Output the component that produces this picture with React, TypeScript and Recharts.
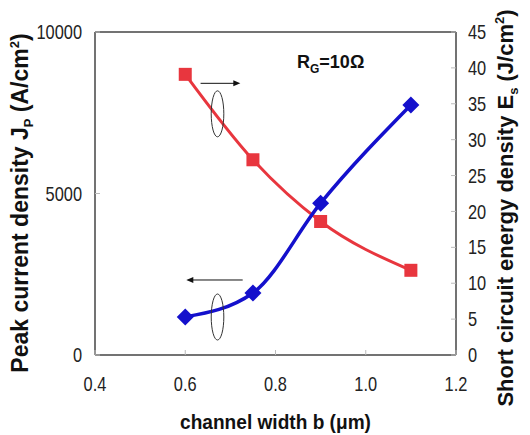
import React from "react";
import {
  ComposedChart,
  Line,
  XAxis,
  YAxis,
  ReferenceLine,
  ReferenceDot,
} from "recharts";

// ---- data ----
const channelWidths = [0.6, 0.75, 0.9, 1.1];
const peakCurrentDensity = [1180, 1920, 4700, 7740];
const shortCircuitEnergy = [39.1, 27.2, 18.6, 11.8];
const xTicks = [0.4, 0.6, 0.8, 1.0, 1.2];
const leftTicks = [0, 5000, 10000];
const rightTicks = [0, 5, 10, 15, 20, 25, 30, 35, 40, 45];

const data = channelWidths.map((w, i) => ({
  w,
  jp: peakCurrentDensity[i],
  es: shortCircuitEnergy[i],
}));

const RED = "#e8363e";
const BLUE = "#1410cc";
const TICK_FONT = '"Liberation Sans", Arial, sans-serif';
const TITLE_FONT = '"Liberation Sans", Arial, sans-serif';
const NARROW = 0.82;

const NarrowText = ({ x, y, anchor, children, dy }: any) => (
  <text
    transform={`translate(${x},${y}) scale(${NARROW},1)`}
    textAnchor={anchor}
    dominantBaseline={dy ? undefined : "central"}
    dy={dy}
    fontFamily={TICK_FONT}
    fontSize={20}
    fill="#222"
  >
    {children}
  </text>
);

const LeftTick = (p: any) => (
  <g>
    <NarrowText x={p.x} y={p.y} anchor="end">{p.payload.value}</NarrowText>
    <line x1={p.x + 13} x2={p.x + 18} y1={p.y} y2={p.y} stroke="#bbb" strokeWidth={1} />
  </g>
);

const RightTick = (p: any) => (
  <g>
    <NarrowText x={p.x} y={p.y} anchor="start">{p.payload.value}</NarrowText>
    <line x1={p.x - 12} x2={p.x - 17} y1={p.y} y2={p.y} stroke="#bbb" strokeWidth={1} />
  </g>
);

const BottomTick = (p: any) => (
  <g>
    <NarrowText x={p.x} y={p.y} anchor="middle" dy="0.71em">
      {Number(p.payload.value).toFixed(1)}
    </NarrowText>
    <line x1={p.x} x2={p.x} y1={p.y - 22} y2={p.y - 27} stroke="#bbb" strokeWidth={1} />
  </g>
);

const Square = (p: any) => {
  if (p.cx == null || p.cy == null) return <g />;
  return <rect x={p.cx - 6.5} y={p.cy - 6.5} width={13} height={13} fill={RED} />;
};

const Diamond = (p: any) => {
  if (p.cx == null || p.cy == null) return <g />;
  const r = 8.5;
  return (
    <polygon
      points={`${p.cx},${p.cy - r} ${p.cx + r},${p.cy} ${p.cx},${p.cy + r} ${p.cx - r},${p.cy}`}
      fill={BLUE}
    />
  );
};

const EllipseShape = (p: any) => (
  <ellipse cx={p.cx} cy={p.cy} rx={6.3} ry={23} fill="none" stroke="#333" strokeWidth={1} />
);

const HeadRight = (p: any) => (
  <polygon points={`${p.cx + 2},${p.cy} ${p.cx - 5},${p.cy - 3} ${p.cx - 5},${p.cy + 3}`} fill="#111" />
);
const HeadLeft = (p: any) => (
  <polygon points={`${p.cx - 2},${p.cy} ${p.cx + 5},${p.cy - 3} ${p.cx + 5},${p.cy + 3}`} fill="#111" />
);

const Titles = () => (
  <svg width={530} height={435} style={{ position: "absolute", left: 0, top: 0, pointerEvents: "none" }}>
    <text
      transform="translate(20,203) rotate(-90)"
      y={8}
      textAnchor="middle"
      fontFamily={TITLE_FONT}
      fontWeight="bold"
      fontSize={23}
      fill="#111"
    >
      Peak current density J<tspan fontSize={13} dy={5}>P</tspan>
      <tspan dy={-5}> (A/cm</tspan>
      <tspan fontSize={13} dy={-9}>2</tspan>
      <tspan dy={9}>)</tspan>
    </text>
    <text
      transform="translate(505,208) rotate(-90)"
      y={8}
      textAnchor="middle"
      fontFamily={TITLE_FONT}
      fontWeight="bold"
      fontSize={22}
      fill="#111"
    >
      Short circuit energy density E<tspan fontSize={13} dy={5}>s</tspan>
      <tspan dy={-5}> (J/cm</tspan>
      <tspan fontSize={13} dy={-9}>2</tspan>
      <tspan dy={9}>)</tspan>
    </text>
    <text
      transform="translate(275.5,429) scale(0.955,1)"
      textAnchor="middle"
      fontFamily={TITLE_FONT}
      fontWeight="bold"
      fontSize={20}
      fill="#111"
    >
      channel width b (μm)
    </text>
    <text x={297} y={68} fontFamily={TITLE_FONT} fontWeight="bold" fontSize={18} fill="#111">
      R<tspan fontSize={12} dy={5}>G</tspan>
      <tspan dy={-5}>=10Ω</tspan>
    </text>
  </svg>
);

export default function App() {
  return (
    <div style={{ position: "absolute", left: 0, top: 0, width: 530, height: 435, background: "#fff" }}>
      <ComposedChart
        width={530}
        height={435}
        data={data}
        margin={{ top: 32, right: 0, bottom: 0, left: 0 }}
      >
        <XAxis
          dataKey="w"
          type="number"
          domain={[0.4, 1.2]}
          ticks={xTicks}
          height={80}
          tickSize={0}
          tickMargin={22}
          tick={<BottomTick />}
          axisLine={{ stroke: "#444", strokeWidth: 1.5 }}
          tickLine={false}
          allowDataOverflow
        />
        <YAxis
          yAxisId="left"
          orientation="left"
          domain={[0, 10000]}
          ticks={leftTicks}
          width={95}
          tickSize={0}
          tickMargin={13}
          tick={<LeftTick />}
          axisLine={{ stroke: "#444", strokeWidth: 1.5 }}
          tickLine={false}
        />
        <YAxis
          yAxisId="right"
          orientation="right"
          domain={[0, 45]}
          ticks={rightTicks}
          width={74}
          tickSize={0}
          tickMargin={12}
          tick={<RightTick />}
          axisLine={{ stroke: "#444", strokeWidth: 1.5 }}
          tickLine={false}
        />
        <ReferenceLine yAxisId="left" y={10000} stroke="#444" strokeWidth={1.5} />

        <Line
          yAxisId="right"
          type="monotone"
          dataKey="es"
          stroke={RED}
          strokeWidth={3}
          dot={<Square />}
          isAnimationActive={false}
        />
        <Line
          yAxisId="left"
          type="monotone"
          dataKey="jp"
          stroke={BLUE}
          strokeWidth={3.5}
          dot={<Diamond />}
          isAnimationActive={false}
        />

        <ReferenceLine
          yAxisId="right"
          segment={[{ x: 0.634, y: 37.85 }, { x: 0.714, y: 37.85 }]}
          stroke="#111"
          strokeWidth={1}
        />
        <ReferenceDot yAxisId="right" x={0.7176} y={37.85} r={3} shape={<HeadRight />} ifOverflow="visible" />
        <ReferenceLine
          yAxisId="left"
          segment={[{ x: 0.611, y: 2322 }, { x: 0.7273, y: 2322 }]}
          stroke="#111"
          strokeWidth={1}
        />
        <ReferenceDot yAxisId="left" x={0.6068} y={2322} r={3} shape={<HeadLeft />} ifOverflow="visible" />

        <ReferenceDot yAxisId="right" x={0.6715} y={33.6} r={6} shape={<EllipseShape />} ifOverflow="visible" />
        <ReferenceDot yAxisId="left" x={0.6715} y={1176} r={6} shape={<EllipseShape />} ifOverflow="visible" />
      </ComposedChart>
      <Titles />
    </div>
  );
}
